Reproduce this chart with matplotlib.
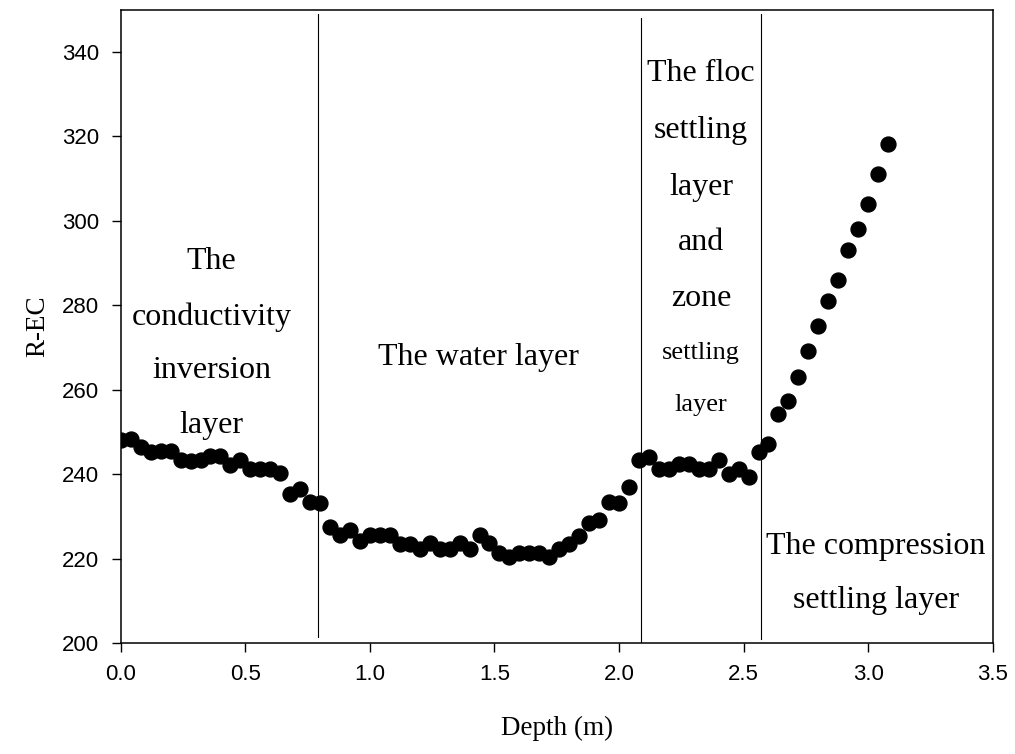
import numpy as np
import matplotlib
matplotlib.use('Agg')
import matplotlib.pyplot as plt

# depth (m) and R-EC readings
depth = [0.00, 0.04, 0.08, 0.12, 0.16, 0.20, 0.24, 0.28, 0.32, 0.36,
         0.40, 0.44, 0.48, 0.52, 0.56, 0.60, 0.64, 0.68, 0.72, 0.76,
         0.80, 0.84, 0.88, 0.92, 0.96, 1.00, 1.04, 1.08, 1.12, 1.16,
         1.20, 1.24, 1.28, 1.32, 1.36, 1.40, 1.44, 1.48, 1.52, 1.56,
         1.60, 1.64, 1.68, 1.72, 1.76, 1.80, 1.84, 1.88, 1.92, 1.96,
         2.00, 2.04, 2.08, 2.12, 2.16, 2.20, 2.24, 2.28, 2.32, 2.36,
         2.40, 2.44, 2.48, 2.52, 2.56, 2.60, 2.64, 2.68, 2.72, 2.76,
         2.80, 2.84, 2.88, 2.92, 2.96, 3.00, 3.04, 3.08]
r_ec = [248.2, 248.4, 246.4, 245.2, 245.5, 245.5, 243.3, 243.1, 243.3, 244.4,
        244.4, 242.3, 243.4, 241.3, 241.3, 241.3, 240.3, 235.4, 236.6, 233.4,
        233.3, 227.5, 225.5, 226.7, 224.2, 225.5, 225.5, 225.5, 223.4, 223.4,
        222.4, 223.7, 222.4, 222.4, 223.7, 222.4, 225.5, 223.7, 221.3, 220.4,
        221.3, 221.3, 221.3, 220.4, 222.4, 223.4, 225.3, 228.4, 229.2, 233.4,
        233.3, 237.1, 243.4, 244.2, 241.3, 241.3, 242.5, 242.5, 241.3, 241.3,
        243.4, 240.1, 241.3, 239.3, 245.3, 247.2, 254.3, 257.3, 263.1, 269.1,
        275.2, 281.1, 286.1, 293.1, 298.0, 304.1, 311.0, 318.1]

# layer boundaries (x, y bottom, y top)
bound_x = [0.79, 2.09, 2.57]
bound_y0 = [201.5, 200.0, 201.0]
bound_y1 = [349.0, 348.0, 349.0]

# layer labels: text, x, y, font size
labels = [
    ('The', 0.365, 290.5, 23), ('conductivity', 0.365, 277.3, 23),
    ('inversion', 0.365, 264.5, 23), ('layer', 0.365, 251.5, 23),
    ('The water layer', 1.434, 267.6, 23),
    ('The floc', 2.33, 334.8, 23), ('settling', 2.33, 321.3, 23),
    ('layer', 2.33, 308.0, 23), ('and', 2.33, 294.8, 23),
    ('zone', 2.33, 281.6, 23), ('settling', 2.33, 268.8, 19),
    ('layer', 2.33, 256.3, 19),
    ('The compression', 3.032, 222.9, 23), ('settling layer', 3.032, 210.2, 23),
]

plt.rcParams['font.family'] = ['Liberation Sans', 'DejaVu Sans']
fig = plt.figure(figsize=(10.15, 7.54), dpi=100)
ax = fig.add_axes([0.119, 0.147, 0.859, 0.840])

ax.scatter(depth, r_ec, s=115, color='black', zorder=3)
for x, y0, y1 in zip(bound_x, bound_y0, bound_y1):
    ax.plot([x, x], [y0, y1], color='black', lw=0.8)

for txt, x, y, fs in labels:
    ax.text(x, y, txt, ha='center', va='center', fontsize=fs,
            family='Liberation Serif')

ax.set_xlim(0, 3.5)
ax.set_ylim(200, 350)
ax.set_xticks(np.arange(0, 3.51, 0.5))
ax.set_xticklabels(['%.1f' % v for v in np.arange(0, 3.51, 0.5)])
ax.set_yticks(range(200, 341, 20))
ax.tick_params(labelsize=16, length=6.7, width=1)
ax.tick_params(axis='x', pad=8.5)
ax.tick_params(axis='y', pad=9)
for sp in ax.spines.values():
    sp.set_linewidth(1.1)

ax.set_xlabel('Depth (m)', family='Liberation Serif', fontsize=19.5, labelpad=22)
ax.set_ylabel('R-EC', family='Liberation Serif', fontsize=19.5, labelpad=8)

fig.savefig('out.png', dpi=100)
